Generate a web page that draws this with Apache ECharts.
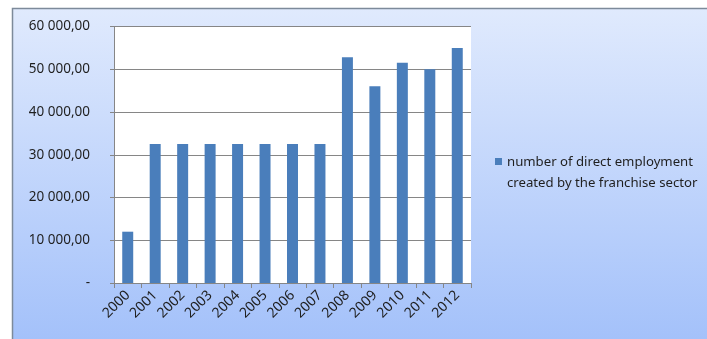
<!DOCTYPE html>
<html><head><meta charset="utf-8">
<script src="https://cdn.jsdelivr.net/npm/echarts@6/dist/echarts.min.js"></script>
<style>html,body{margin:0;padding:0;background:#fff}#c{width:707px;height:339px}</style>
</head><body><div id="c"></div>
<script>
var years = ['2000','2001','2002','2003','2004','2005','2006','2007','2008','2009','2010','2011','2012'];
var employment = [12000, 32500, 32500, 32500, 32500, 32500, 32500, 32500, 52800, 46000, 51500, 50000, 55000];
var seriesName = 'number of direct employment\ncreated by the franchise sector';

function fmt(v){
  if (v === 0) return '-';
  var s = Math.round(v).toString().replace(/\B(?=(\d{3})+(?!\d))/g, ' ');
  return s + ',00';
}
var chart = echarts.init(document.getElementById('c'));
var font = 'Noto Sans';
chart.setOption({
  animation: false,
  backgroundColor: '#ffffff',
  graphic: [
    {type:'rect', z:-10, silent:true, shape:{x:12.5, y:8.5, width:700, height:340},
     style:{fill:new echarts.graphic.LinearGradient(0,0,0,1,[{offset:0,color:'#e0eafd'},{offset:1,color:'#a2c0fa'}]),
            stroke:'#7d8a9a', lineWidth:1.5}},
    {type:'rect', z:-5, silent:true, shape:{x:114, y:26.5, width:357, height:256.5}, style:{fill:'#ffffff'}}
  ],
  grid: {left:114, right:236, top:26.5, bottom:56, containLabel:false},
  legend: {
    orient:'vertical', left:495, top:147, padding:[5,0,5,0], itemWidth:7, itemHeight:30, itemGap:4,
    icon:'path://M0,0L10,0L10,10L0,10Z M0,43L0.01,43L0.01,43.01Z',
    textStyle:{fontFamily:font, fontSize:13.2, color:'#1f1f1f', lineHeight:21},
    data:[seriesName]
  },
  xAxis: {
    type:'category', data:years, boundaryGap:true,
    axisLine:{show:true, lineStyle:{color:'#868686', width:1}},
    axisTick:{show:true, length:5, alignWithLabel:false, lineStyle:{color:'#868686'}},
    axisLabel:{rotate:45, margin:10, fontFamily:font, fontSize:14, color:'#1f1f1f', interval:0}
  },
  yAxis: {
    type:'value', min:0, max:60000, interval:10000,
    axisLine:{show:true, lineStyle:{color:'#868686', width:1}},
    axisTick:{show:true, length:4, lineStyle:{color:'#868686'}},
    splitLine:{show:true, lineStyle:{color:'#868686', width:1}},
    axisLabel:{formatter:fmt, margin:24, fontFamily:font, fontSize:13.5, color:'#1f1f1f'}
  },
  series: [{
    name: seriesName, type:'bar', data:employment, barWidth:'40%',
    itemStyle:{color:'#4a7ebb'}
  }]
});
</script></body></html>
